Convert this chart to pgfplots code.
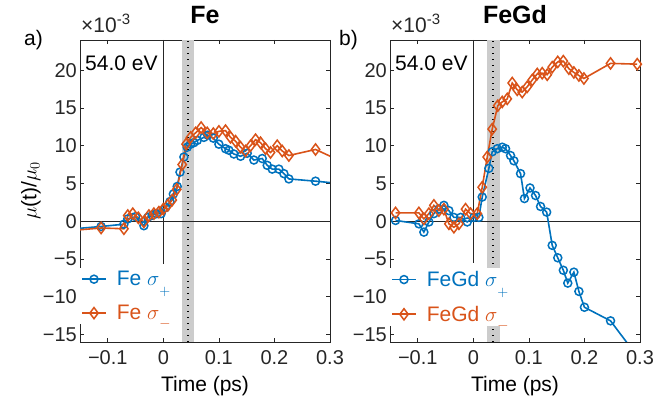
\documentclass[border=0pt]{standalone}
\usepackage{pgfplots}
\pgfplotsset{compat=1.18}
\usepackage{fontspec}
\setmainfont{Liberation Sans}
\definecolor{mblue}{RGB}{0,114,189}
\definecolor{morange}{RGB}{217,83,25}
\definecolor{axgray}{RGB}{38,38,38}
\definecolor{shadegray}{RGB}{204,204,204}
\newcommand{\fs}{\fontsize{21}{25}\selectfont}
\newcommand{\ft}{\fontsize{20}{24}\selectfont}
\newcommand{\subplus}{\ensuremath{_{\raisebox{-6.5pt}{$\scriptstyle +$}}}}
\newcommand{\subminus}{\ensuremath{_{\raisebox{-5pt}{$\scriptstyle -$}}}}

\pgfplotsset{
 myaxis/.style={
  scale only axis, width=250pt, height=302pt,
  xmin=-0.15, xmax=0.3, ymin=-16, ymax=24,
  xtick={-0.1,0,0.1,0.2,0.3}, ytick={-15,-10,-5,0,5,10,15,20},
  xticklabels={−0.1,0,0.1,0.2,0.3},
  yticklabels={−15,−10,−5,0,5,10,15,20},
  scaled ticks=false,
  tick align=inside, major tick length=4pt,
  axis line style={axgray, line width=0.6pt},
  every tick/.style={axgray, line width=0.6pt},
  tick label style={font=\ft, text=axgray},
  xticklabel style={anchor=base, yshift=-22.5pt, inner sep=0pt},
  yticklabel style={anchor=east, xshift=-3pt, inner sep=0pt},
  title style={at={(0.5,1)}, anchor=base, yshift=10pt, font=\bfseries\fontsize{25}{30}\selectfont, inner sep=0pt},
  xlabel style={at={(axis description cs:0.5,0)}, anchor=base, yshift=-50pt, font=\fs, text=black, inner sep=0pt},
  ylabel style={at={(axis description cs:-0.196,0.5)}, anchor=center, font=\fs, text=black, inner sep=0pt},
  legend style={at={(axis description cs:0,0.245)}, anchor=north west, fill=white, draw=none,
     font=\fs, inner sep=1pt, nodes={inner sep=2pt}, column sep=8pt, row sep=14pt},
  legend cell align=left,
  legend image code/.code={\draw[#1, mark repeat=2, mark phase=2] plot coordinates {(0pt,0pt) (12pt,0pt) (24pt,0pt)};},
 },
 bl/.style={color=mblue, line width=1.6pt, mark=o, mark size=4pt, mark options={line width=1.5pt, solid}},
 or/.style={color=morange, line width=1.6pt, mark=diamond, mark size=5.6pt, mark options={line width=1.5pt, solid}},
}

\begin{document}
\begin{tikzpicture}
\path[use as bounding box] (0pt,0pt) rectangle (653pt,398pt);

% ---------------- Fe -----------------
\begin{axis}[myaxis, at={(80pt,56pt)}, anchor=south west,
  title={Fe}, xlabel={Time (ps)}, ylabel={$\mu$(t)/$\mu_0$}]
\fill[shadegray] (axis cs:0.033,-16) rectangle (axis cs:0.0553,24);
\addplot[black, line width=1.3pt, dash pattern=on 1.2pt off 4.8pt, forget plot] coordinates {(0.0445,-16) (0.0445,24)};
\addplot[axgray, line width=0.6pt, forget plot] coordinates {(-0.15,0) (0.3,0)};
\addplot[axgray, line width=0.6pt, forget plot] coordinates {(0,-5.7) (0,24)};
\addplot[bl] coordinates {
(-0.16,-1.0) (-0.112,-0.7) (-0.071,-0.4) (-0.064,0.3) (-0.05,0.6) (-0.035,-0.6)
(-0.028,0.5) (-0.02,0.8) (-0.012,1.0) (-0.004,1.0) (0.004,1.8) (0.012,2.6)
(0.018,3.6) (0.025,4.6) (0.030,6.5) (0.037,8.5) (0.043,9.8) (0.049,10.2)
(0.055,10.4) (0.061,10.7) (0.073,11.1) (0.080,11.4) (0.090,11.0) (0.100,10.2)
(0.112,9.6) (0.118,9.4) (0.127,8.9) (0.139,8.6) (0.151,9.0) (0.163,8.1)
(0.178,8.3) (0.187,7.4) (0.196,6.9) (0.208,6.9) (0.217,6.3) (0.226,5.6)
(0.274,5.3) (0.33,4.9)};
\addlegendentry{\textcolor{mblue}{Fe $\sigma$\subplus}}
\addplot[or] coordinates {
(-0.16,-1.2) (-0.112,-0.9) (-0.071,-1.0) (-0.064,0.75) (-0.055,1.0) (-0.045,0.45)
(-0.035,-0.1) (-0.026,0.75) (-0.017,1.0) (-0.008,1.2) (0.0,1.6) (0.008,2.1)
(0.016,2.8) (0.024,4.2) (0.034,7.5) (0.041,10.2) (0.049,11.1) (0.058,11.7)
(0.068,12.4) (0.079,11.7) (0.090,11.6) (0.100,11.9) (0.112,12.0) (0.121,11.1)
(0.130,10.6) (0.139,9.8) (0.148,9.3) (0.157,10.0) (0.166,10.8) (0.175,10.4)
(0.184,9.6) (0.193,9.1) (0.205,10.0) (0.214,9.3) (0.226,8.7) (0.274,9.5)
(0.33,7.6)};
\addlegendentry{\textcolor{morange}{Fe $\sigma$\subminus}}
\node[anchor=base west, inner sep=0pt, font=\fs, text=black] at (rel axis cs:0.02,0.9) {54.0 eV};
\end{axis}

% ---------------- FeGd -----------------
\begin{axis}[myaxis, at={(390pt,56pt)}, anchor=south west,
  title={FeGd}, xlabel={Time (ps)}]
\fill[shadegray] (axis cs:0.024,-16) rectangle (axis cs:0.0474,24);
\addplot[black, line width=1.3pt, dash pattern=on 1.2pt off 4.8pt, forget plot] coordinates {(0.0355,-16) (0.0355,24)};
\addplot[axgray, line width=0.6pt, forget plot] coordinates {(-0.15,0) (0.3,0)};
\addplot[axgray, line width=0.6pt, forget plot] coordinates {(0,-5.5) (0,24)};
\addplot[bl] coordinates {
(-0.140,0.1) (-0.098,-0.35) (-0.089,-1.45) (-0.080,-0.1) (-0.071,1.0) (-0.062,1.6)
(-0.053,2.1) (-0.044,1.4) (-0.035,0.5) (-0.023,0.5) (-0.011,-0.1) (0.001,0.5)
(0.010,0.5) (0.016,3.2) (0.028,7.0) (0.034,9.2) (0.043,9.6) (0.052,9.8)
(0.058,9.6) (0.067,8.7) (0.073,8.0) (0.085,6.3) (0.092,3.0) (0.102,4.4)
(0.112,3.4) (0.121,1.95) (0.132,1.2) (0.142,-3.2) (0.152,-4.85) (0.162,-6.5)
(0.170,-8.2) (0.181,-6.75) (0.190,-9.3) (0.200,-11.4) (0.247,-13.2) (0.295,-17.9)};
\addlegendentry{\textcolor{mblue}{FeGd $\sigma$\subplus}}
\addplot[or] coordinates {
(-0.140,1.1) (-0.098,1.1) (-0.089,0.3) (-0.080,1.0) (-0.071,2.1) (-0.062,1.4)
(-0.053,1.6) (-0.044,-0.35) (-0.035,-0.8) (-0.026,-0.35) (-0.014,1.6) (-0.005,1.0)
(0.007,1.0) (0.016,4.5) (0.025,8.5) (0.034,12.2) (0.044,15.3) (0.052,15.8)
(0.061,16.2) (0.070,18.3) (0.079,17.4) (0.088,17.1) (0.097,17.8) (0.106,18.7)
(0.115,19.5) (0.124,19.6) (0.133,19.4) (0.142,20.4) (0.152,21.1) (0.162,21.2)
(0.172,20.2) (0.181,19.7) (0.190,19.3) (0.199,18.9) (0.247,20.9) (0.295,20.8)};
\addlegendentry{\textcolor{morange}{FeGd $\sigma$\subminus}}
\node[anchor=base west, inner sep=0pt, font=\fs, text=black] at (rel axis cs:0.02,0.9) {54.0 eV};
\end{axis}

\node[anchor=base west, inner sep=0pt, font=\fs, text=black] at (24pt,352pt) {a)};
\node[anchor=base west, inner sep=0pt, font=\fs, text=black] at (339pt,352pt) {b)};
\node[anchor=base west, inner sep=0pt, font=\fs, text=axgray] at (81pt,365pt) {×10\raisebox{8pt}{\fontsize{15}{15}\selectfont -3}};
\node[anchor=base west, inner sep=0pt, font=\fs, text=axgray] at (391pt,365pt) {×10\raisebox{8pt}{\fontsize{15}{15}\selectfont -3}};
\end{tikzpicture}
\end{document}
